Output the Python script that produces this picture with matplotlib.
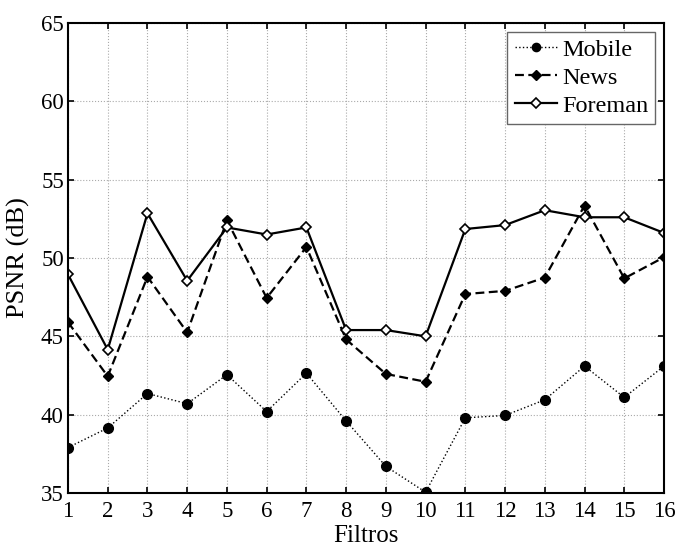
import matplotlib
matplotlib.use("Agg")
import matplotlib.pyplot as plt

filtros = list(range(1, 17))
mobile = [37.9, 39.15, 41.35, 40.7, 42.55, 40.2, 42.65, 39.6, 36.7, 35.05, 39.8, 39.95, 40.95, 43.1, 41.1, 43.1]
news = [45.9, 42.45, 48.8, 45.25, 52.4, 47.45, 50.7, 44.8, 42.6, 42.1, 47.7, 47.9, 48.75, 53.35, 48.7, 50.05]
foreman = [48.95, 44.15, 52.85, 48.55, 51.95, 51.5, 51.95, 45.4, 45.4, 45.0, 51.85, 52.1, 53.05, 52.6, 52.6, 51.6]
yticks = [35, 40, 45, 50, 55, 60, 65]

plt.rcParams['font.family'] = ['Liberation Serif', 'DejaVu Serif']
plt.rcParams['mathtext.fontset'] = 'stix'

W, H = 678, 550
fig = plt.figure(figsize=(W / 100, H / 100), dpi=100)
left, right, top, bottom = 68, 664, 23, 493
ax = fig.add_axes([left / W, (H - bottom) / H, (right - left) / W, (bottom - top) / H])

ax.plot(filtros, mobile, linestyle=':', color='black', lw=1.0, marker='o',
        markersize=7, markerfacecolor='black', label='Mobile')
ax.plot(filtros, news, linestyle='--', color='black', lw=1.6, marker='D',
        markersize=5.5, markerfacecolor='black', label='News', dashes=(4, 2))
ax.plot(filtros, foreman, linestyle='-', color='black', lw=1.6, marker='D',
        markersize=5.5, markerfacecolor='white', markeredgewidth=1.2, label='Foreman')

ax.set_xlim(1, 16)
ax.set_ylim(35, 65)
ax.set_xticks(filtros)
ax.set_yticks(yticks)
ax.tick_params(direction='in', top=True, right=True, labelsize=16.5, length=4.5, width=1.2)
ax.tick_params(axis='x', pad=6)
ax.tick_params(axis='y', pad=3)
ax.grid(True, linestyle=':', color='#aaaaaa', lw=0.8)
for s in ax.spines.values():
    s.set_linewidth(1.5)

ax.set_xlabel('Filtros', fontsize=18, labelpad=2)
ax.set_ylabel('PSNR (dB)', fontsize=19, labelpad=8)

leg = ax.legend(loc='upper right', fontsize=17.5, fancybox=False, framealpha=1,
                edgecolor='#666666', borderpad=0.3, labelspacing=0.25,
                handlelength=1.75, handletextpad=0.2, borderaxespad=0.35,
                markerscale=0.85)
leg.get_frame().set_linewidth(1.0)

fig.savefig('out.png', dpi=100)
